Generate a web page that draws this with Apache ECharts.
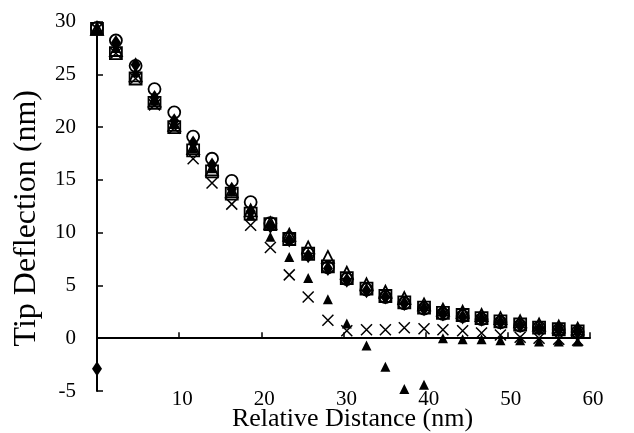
<!DOCTYPE html>
<html><head><meta charset="utf-8">
<script src="https://cdn.jsdelivr.net/npm/echarts@6/dist/echarts.min.js"></script>
<style>html,body{margin:0;padding:0;background:#fff}#c{width:634px;height:433px}</style>
</head><body><div id="c"></div>
<script>
// Relative distance (nm) of each measurement column
const distance = [0, 2.3, 4.7, 7.0, 9.4, 11.7, 14.0, 16.4, 18.7, 21.1, 23.4, 25.7, 28.1, 30.4, 32.8, 35.1, 37.4, 39.8, 42.1, 44.5, 46.8, 49.1, 51.5, 53.8, 56.2, 58.5];
// Tip deflection (nm) for each marker type
const openCircle   = [29.4, 28.2, 25.8, 23.6, 21.4, 19.1, 17.0, 14.9, 12.9, 10.9, 9.5, 8.0, 6.7, 5.6, 4.6, 3.9, 3.3, 2.8, 2.3, 2.1, 1.8, 1.5, 1.2, 1.0, 0.8, 0.6];
const filledDiamond= [-2.9, 28.0, 25.9, 22.8, 20.6, 18.5, 16.4, 14.1, 12.0, 10.6, 9.3, 7.8, 6.6, 5.5, 4.5, 3.9, 3.3, 2.8, 2.3, 2.0, 1.8, 1.5, 1.2, 0.9, 0.8, 0.6];
const openTriangle = [29.3, 27.3, 24.9, 22.5, 20.2, 18.0, 16.0, 13.9, 12.1, 10.9, 9.8, 8.6, 7.7, 6.2, 5.1, 4.4, 3.8, 3.2, 2.7, 2.5, 2.2, 1.9, 1.6, 1.3, 1.1, 0.9];
const openSquare   = [29.3, 27.0, 24.6, 22.3, 20.0, 17.8, 15.8, 13.7, 11.8, 10.8, 9.4, 8.0, 6.8, 5.7, 4.7, 4.0, 3.4, 2.9, 2.4, 2.2, 1.9, 1.6, 1.3, 1.0, 0.85, 0.65];
const cross        = [29.3, 27.0, 24.6, 22.1, 19.9, 17.0, 14.7, 12.7, 10.7, 8.6, 6.0, 3.9, 1.7, 0.7, 0.8, 0.8, 1.0, 0.9, 0.8, 0.7, 0.5, 0.3, 0.1, 0.0, -0.1, -0.2];
const filledTriangle=[29.3, 27.5, 25.2, 22.5, 20.3, 18.0, 16.1, 13.9, 11.6, 9.6, 7.7, 5.7, 3.7, 1.4, -0.7, -2.7, -4.8, -4.4, 0.0, -0.1, -0.1, -0.2, -0.2, -0.3, -0.3, -0.3];
const yTicks = [-5, 0, 5, 10, 15, 20, 25, 30];
const xTicks = [10, 20, 30, 40, 50, 60];

const pair = ys => distance.map((x, i) => [x, ys[i]]);
const FONT = 'Liberation Serif';
const crossPath = 'path://M0,0L10,10M10,0L0,10';
const hollow = {color: 'rgba(0,0,0,0)', borderColor: '#000', borderWidth: 1.8, opacity: 1};
const solid = {color: '#000', opacity: 1};

const chart = echarts.init(document.getElementById('c'), null, {renderer: 'canvas'});
chart.setOption({
  animation: false,
  backgroundColor: '#fff',
  grid: {left: 97, right: 44, top: 21.5, bottom: 42, containLabel: false, outerBoundsMode: 'none'},
  xAxis: [{
    type: 'value', min: 0, max: 60, interval: 10, position: 'bottom',
    axisLine: {show: false, onZero: false}, axisTick: {show: false}, splitLine: {show: false},
    axisLabel: {margin: -2, padding: [0, 0, 0, 6], fontFamily: FONT, fontSize: 21, color: '#000',
      formatter: v => xTicks.indexOf(v) >= 0 ? String(v) : ''},
    name: 'Relative Distance (nm)', nameLocation: 'middle', nameGap: 15, nameMoveOverlap: false,
    nameTextStyle: {fontFamily: FONT, fontSize: 26, color: '#000', padding: [0, 0, 0, 18]}
  }, {
    type: 'value', min: 0, max: 60, interval: 10, position: 'top',
    axisLine: {show: true, onZero: true, lineStyle: {color: '#000', width: 2}},
    axisTick: {show: true, inside: false, length: 6, lineStyle: {color: '#000', width: 1.5}},
    axisLabel: {show: false}, splitLine: {show: false}
  }],
  yAxis: {
    type: 'value', min: -5, max: 30, interval: 5,
    axisLine: {show: true, onZero: false, lineStyle: {color: '#000', width: 2}},
    axisTick: {show: true, inside: true, length: 6, lineStyle: {color: '#000', width: 1.5}},
    splitLine: {show: false},
    axisLabel: {margin: 21, fontFamily: FONT, fontSize: 21, color: '#000',
      formatter: v => yTicks.indexOf(v) >= 0 ? String(v) : ''},
    name: 'Tip Deflection (nm)', nameLocation: 'middle', nameGap: 54, nameMoveOverlap: false,
    nameTextStyle: {fontFamily: FONT, fontSize: 32, color: '#000', padding: [0, 24, 0, 0]}
  },
  series: [
    {type: 'scatter', name: 'open circle', data: pair(openCircle), symbol: 'circle', symbolSize: 12, itemStyle: hollow},
    {type: 'scatter', name: 'filled diamond', data: pair(filledDiamond), symbol: 'diamond', symbolSize: [10, 15], itemStyle: solid},
    {type: 'scatter', name: 'open triangle', data: pair(openTriangle), symbol: 'triangle', symbolSize: 12, itemStyle: hollow},
    {type: 'scatter', name: 'open square', data: pair(openSquare), symbol: 'rect', symbolSize: 12, itemStyle: hollow},
    {type: 'scatter', name: 'cross', data: pair(cross), symbol: crossPath, symbolSize: 11,
      itemStyle: {color: 'rgba(0,0,0,0)', borderColor: '#000', borderWidth: 1.5, opacity: 1}},
    {type: 'scatter', name: 'filled triangle', data: pair(filledTriangle), symbol: 'triangle', symbolSize: 10, itemStyle: solid}
  ]
});
</script></body></html>
